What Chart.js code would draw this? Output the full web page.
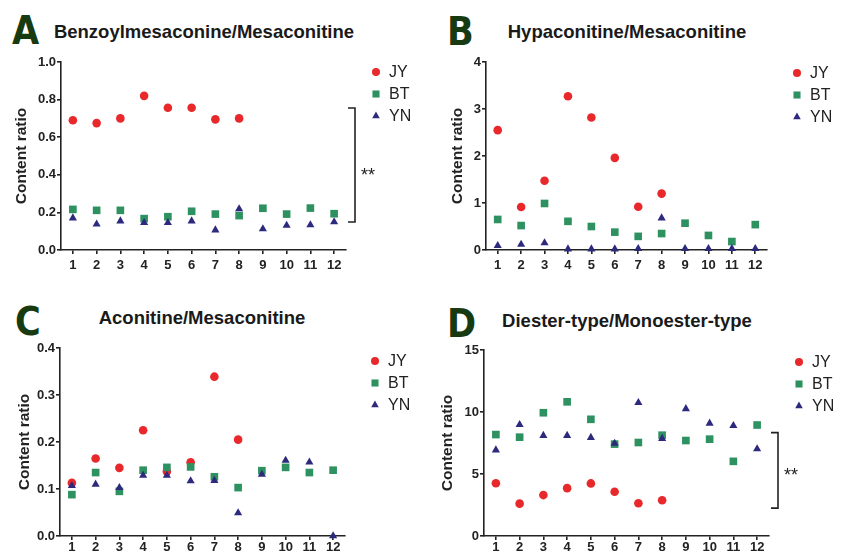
<!DOCTYPE html>
<html>
<head>
<meta charset="utf-8">
<script src="https://cdn.jsdelivr.net/npm/chart.js@4.4.1/dist/chart.umd.min.js"></script>
<style>
  body { margin: 0; background: #fff; width: 843px; height: 558px; position: relative; overflow: hidden;
         font-family: 'Liberation Sans', Arial, sans-serif; }
  canvas { position: absolute; }
  .tag { position: absolute; font: bold 39px 'Liberation Sans Narrow', 'DejaVu Sans Condensed', sans-serif;
         color: #173a10; line-height: 1; }
  .ttl { position: absolute; width: 400px; text-align: center; font-weight: bold; font-size: 18.5px;
         color: #1a1a1a; line-height: 1; }
</style>
</head>
<body>
<div class="tag" style="left:12px;top:11px">A</div>
<div class="tag" style="left:447px;top:12px">B</div>
<div class="tag" style="left:15px;top:302px">C</div>
<div class="tag" style="left:447px;top:304px">D</div>
<div class="ttl" style="left:4px;top:23px">Benzoylmesaconine/Mesaconitine</div>
<div class="ttl" style="left:427px;top:23px">Hypaconitine/Mesaconitine</div>
<div class="ttl" style="left:2px;top:309px">Aconitine/Mesaconitine</div>
<div class="ttl" style="left:427px;top:312px">Diester-type/Monoester-type</div>

<canvas id="chartA" width="408" height="279" style="left:12px;top:0px"></canvas>
<canvas id="chartB" width="394" height="279" style="left:448px;top:0px"></canvas>
<canvas id="chartC" width="405" height="278" style="left:15px;top:280px"></canvas>
<canvas id="chartD" width="404" height="278" style="left:438px;top:280px"></canvas>

<script>
// 樣本編號與組別
const samples = [1, 2, 3, 4, 5, 6, 7, 8, 9, 10, 11, 12];
const groups = ['JY', 'BT', 'YN'];
const groupColors = ['#e8282b', '#2e9160', '#2d2a7e'];
const groupStyles = ['circle', 'rect', 'triangle'];

// A: Benzoylmesaconine/Mesaconitine
const aJY = [0.69, 0.675, 0.70, 0.82, 0.757, 0.757, 0.695, 0.70];
const aBT = [0.216, 0.211, 0.211, 0.167, 0.177, 0.206, 0.191, 0.183, 0.222, 0.191, 0.223, 0.193];
const aYN = [0.17, 0.137, 0.154, 0.145, 0.145, 0.154, 0.106, 0.218, 0.112, 0.131, 0.133, 0.149];
const aTicks = [0, 0.2, 0.4, 0.6, 0.8, 1.0];

// B: Hypaconitine/Mesaconitine
const bJY = [2.55, 0.915, 1.475, 3.27, 2.82, 1.96, 0.92, 1.2];
const bBT = [0.65, 0.52, 0.99, 0.61, 0.50, 0.38, 0.29, 0.35, 0.57, 0.31, 0.18, 0.54];
const bYN = [0.09, 0.12, 0.15, 0.02, 0.02, 0.02, 0.03, 0.68, 0.03, 0.03, 0.03, 0.03];
const bTicks = [0, 1, 2, 3, 4];

// C: Aconitine/Mesaconitine
const cJY = [0.113, 0.165, 0.145, 0.225, 0.137, 0.157, 0.339, 0.205];
const cBT = [0.088, 0.135, 0.095, 0.14, 0.146, 0.147, 0.126, 0.103, 0.139, 0.146, 0.135, 0.14];
const cYN = [0.107, 0.11, 0.103, 0.129, 0.129, 0.117, 0.118, 0.049, 0.131, 0.161, 0.157, 0.0];
const cTicks = [0, 0.1, 0.2, 0.3, 0.4];

// D: Diester-type/Monoester-type
const dJY = [4.26, 2.61, 3.30, 3.86, 4.24, 3.57, 2.64, 2.88];
const dBT = [8.18, 7.97, 9.94, 10.82, 9.41, 7.41, 7.54, 8.13, 7.70, 7.81, 6.02, 8.95];
const dYN = [6.93, 8.98, 8.1, 8.1, 7.94, 7.46, 10.76, 7.86, 10.26, 9.09, 8.9, 7.03];
const dTicks = [0, 5, 10, 15];

// 顯著性括號 (值範圍)
const aBracket = [0.755, 0.149];
const dBracket = [8.34, 2.25];

const ink = '#222';
Chart.defaults.font.family = "'Liberation Sans', Arial, sans-serif";
Chart.defaults.color = ink;

// 圖例與括號
const extras = {
    id: 'extras',
    afterDraw(chart, args, opts) {
        const ctx = chart.ctx;
        const area = chart.chartArea;
        ctx.save();
        // legend
        const lx = area.right + 30;
        groups.forEach((g, i) => {
            const y = area.top + opts.legendTop + i * 22;
            ctx.fillStyle = groupColors[i];
            ctx.strokeStyle = groupColors[i];
            const r = [4, 5, 4.4][i];
            Chart.helpers.drawPoint(ctx, { pointStyle: groupStyles[i], radius: r, rotation: 0, borderWidth: 0 }, lx, y);
            ctx.fillStyle = ink;
            ctx.font = "16px 'Liberation Sans', Arial, sans-serif";
            ctx.textBaseline = 'middle';
            ctx.textAlign = 'left';
            ctx.fillText(g, lx + 13, y + 1);
        });
        // bracket
        if (opts.bracket) {
            const ys = chart.scales.y;
            const bx = area.right + 9;
            const y1 = ys.getPixelForValue(opts.bracket[0]);
            const y2 = ys.getPixelForValue(opts.bracket[1]);
            ctx.strokeStyle = ink;
            ctx.lineWidth = 1.6;
            ctx.beginPath();
            ctx.moveTo(bx - 7, y1);
            ctx.lineTo(bx, y1);
            ctx.lineTo(bx, y2);
            ctx.lineTo(bx - 7, y2);
            ctx.stroke();
            ctx.fillStyle = ink;
            ctx.font = "18px 'Liberation Sans', Arial, sans-serif";
            ctx.textBaseline = 'middle';
            ctx.fillText('**', bx + 6, (y1 + y2) / 2 + opts.starShift);
        }
        ctx.restore();
    }
};

function makePanel(id, series, ticks, decimals, yWidth, xPad, layout, legendTop, bracket, starShift) {
    const ctx = document.getElementById(id).getContext('2d');
    return new Chart(ctx, {
        type: 'scatter',
        data: {
            datasets: series.map((vals, i) => ({
                label: groups[i],
                data: vals.map((v, k) => ({ x: samples[k], y: v })),
                pointStyle: groupStyles[i],
                pointRadius: [4.3, 5.4, 4.7][i],
                backgroundColor: groupColors[i],
                borderColor: groupColors[i],
                borderWidth: 0,
                order: 3 - i,
                clip: false
            }))
        },
        options: {
            responsive: false,
            animation: false,
            layout: { padding: layout },
            plugins: {
                legend: { display: false },
                tooltip: { enabled: false },
                extras: { legendTop: legendTop, bracket: bracket, starShift: starShift || 0 }
            },
            scales: {
                x: {
                    type: 'linear',
                    min: 0.5,
                    max: 12.5,
                    afterBuildTicks: s => { s.ticks = samples.map(v => ({ value: v })); },
                    afterFit: s => { s.height = 22; },
                    grid: { drawOnChartArea: false, tickLength: 4, color: ink, lineWidth: 1.6 },
                    border: { color: ink, width: 1.6 },
                    ticks: { padding: xPad, font: { size: 13, weight: 'bold' }, color: ink, maxRotation: 0 }
                },
                y: {
                    min: ticks[0],
                    max: ticks[ticks.length - 1],
                    afterBuildTicks: s => { s.ticks = ticks.map(v => ({ value: v })); },
                    afterFit: s => { s.width = yWidth; },
                    grid: { drawOnChartArea: false, tickLength: 4, color: ink, lineWidth: 1.6 },
                    border: { color: ink, width: 1.6 },
                    ticks: {
                        padding: 1,
                        font: { size: 13, weight: 'bold' },
                        color: ink,
                        callback: v => v.toFixed(decimals)
                    },
                    title: {
                        display: true,
                        text: 'Content ratio',
                        padding: { top: 0, bottom: 0 },
                        font: { size: 15.5, weight: 'bold' },
                        color: ink
                    }
                }
            }
        },
        plugins: [extras]
    });
}

document.addEventListener('DOMContentLoaded', () => {
    makePanel('chartA', [aJY, aBT, aYN], aTicks, 1, 49, 4, { top: 62, right: 74, bottom: 7, left: 0 }, 10, aBracket, 11);
    makePanel('chartB', [bJY, bBT, bYN], bTicks, 0, 38, 4, { top: 62, right: 75, bottom: 7, left: 0 }, 11, null);
    makePanel('chartC', [cJY, cBT, cYN], cTicks, 1, 45, 0, { top: 68, right: 75, bottom: 0, left: 0 }, 13, null);
    makePanel('chartD', [dJY, dBT, dYN], dTicks, 0, 46, 0, { top: 70, right: 73, bottom: 0, left: 0 }, 12, dBracket, 6);
});
</script>
</body>
</html>
